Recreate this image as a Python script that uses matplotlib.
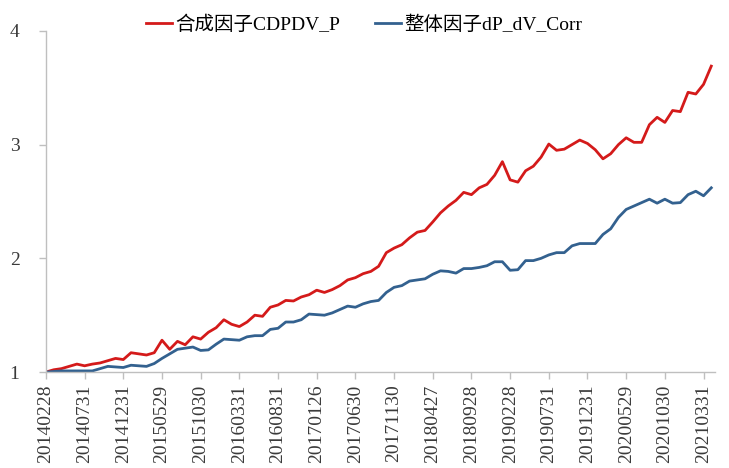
import matplotlib
matplotlib.use("Agg")
import matplotlib.pyplot as plt

# month-end dates, a label every 5 months
tick_labels = ["20140228", "20140731", "20141231", "20150529", "20151030",
               "20160331", "20160831", "20170126", "20170630", "20171130",
               "20180427", "20180928", "20190228", "20190731", "20191231",
               "20200529", "20201030", "20210331"]

cdpdv_p = [1.00, 1.02, 1.03, 1.05, 1.07, 1.055, 1.07, 1.08, 1.10, 1.12,
           1.11, 1.17, 1.16, 1.15, 1.17, 1.28, 1.20, 1.27, 1.24, 1.31,
           1.29, 1.35, 1.39, 1.46, 1.42, 1.40, 1.44, 1.50, 1.49, 1.57,
           1.59, 1.63, 1.625, 1.66, 1.68, 1.72, 1.70, 1.725, 1.76, 1.81,
           1.83, 1.865, 1.885, 1.93, 2.05, 2.09, 2.12, 2.18, 2.23, 2.245,
           2.32, 2.40, 2.46, 2.51, 2.58, 2.56, 2.62, 2.65, 2.73, 2.85,
           2.69, 2.67, 2.77, 2.81, 2.89, 3.005, 2.95, 2.96, 3.00, 3.04,
           3.01, 2.955, 2.875, 2.92, 3.00, 3.06, 3.02, 3.02, 3.175, 3.24,
           3.195, 3.30, 3.29, 3.46, 3.445, 3.53, 3.69]

dp_dv_corr = [1.00, 1.005, 1.01, 1.01, 1.01, 1.01, 1.01, 1.03, 1.05, 1.045,
              1.04, 1.06, 1.055, 1.05, 1.075, 1.12, 1.16, 1.20, 1.21, 1.22,
              1.19, 1.195, 1.245, 1.29, 1.285, 1.28, 1.31, 1.32, 1.32, 1.375,
              1.385, 1.44, 1.44, 1.46, 1.51, 1.505, 1.50, 1.52, 1.55, 1.58,
              1.57, 1.60, 1.62, 1.63, 1.70, 1.745, 1.76, 1.80, 1.81, 1.82,
              1.86, 1.89, 1.885, 1.87, 1.91, 1.91, 1.92, 1.935, 1.97, 1.97,
              1.895, 1.90, 1.98, 1.98, 2.00, 2.03, 2.05, 2.05, 2.11, 2.13,
              2.13, 2.13, 2.21, 2.26, 2.36, 2.43, 2.46, 2.49, 2.52, 2.485,
              2.52, 2.485, 2.49, 2.56, 2.59, 2.55, 2.62]

fonts = ["Liberation Serif", "Noto Sans CJK SC"]
plt.rcParams["font.family"] = fonts

fig = plt.figure(figsize=(7.29, 4.68), dpi=100)
ax = fig.add_axes([0.063, 0.205, 0.918, 0.729])

x = list(range(len(cdpdv_p)))
ax.plot(x, cdpdv_p, color="#D41A1A", lw=2, label="合成因子CDPDV_P")
ax.plot(x, dp_dv_corr, color="#33618F", lw=2, label="整体因子dP_dV_Corr")

ax.set_xlim(0, len(x) - 0.5)
ax.set_ylim(1, 4)
ax.set_yticks([1, 2, 3, 4])
ax.set_xticks(range(0, 5 * len(tick_labels), 5))
ax.set_xticklabels(tick_labels, rotation=90)

for s in ["top", "right"]:
    ax.spines[s].set_visible(False)
for s in ["left", "bottom"]:
    ax.spines[s].set_color("#BFBFBF")
    ax.spines[s].set_linewidth(1)
ax.tick_params(axis="both", colors="#BFBFBF", length=5, width=1,
               labelcolor="#3A3A3A", labelsize=14)
ax.tick_params(axis="y", pad=14)
ax.tick_params(axis="x", pad=4)

fig.legend(loc="upper center", bbox_to_anchor=(0.5, 1.005), ncol=2,
           frameon=False, fontsize=14, handlelength=1.3, handletextpad=0.2,
           columnspacing=1.8)

fig.savefig("out.png", dpi=100)
